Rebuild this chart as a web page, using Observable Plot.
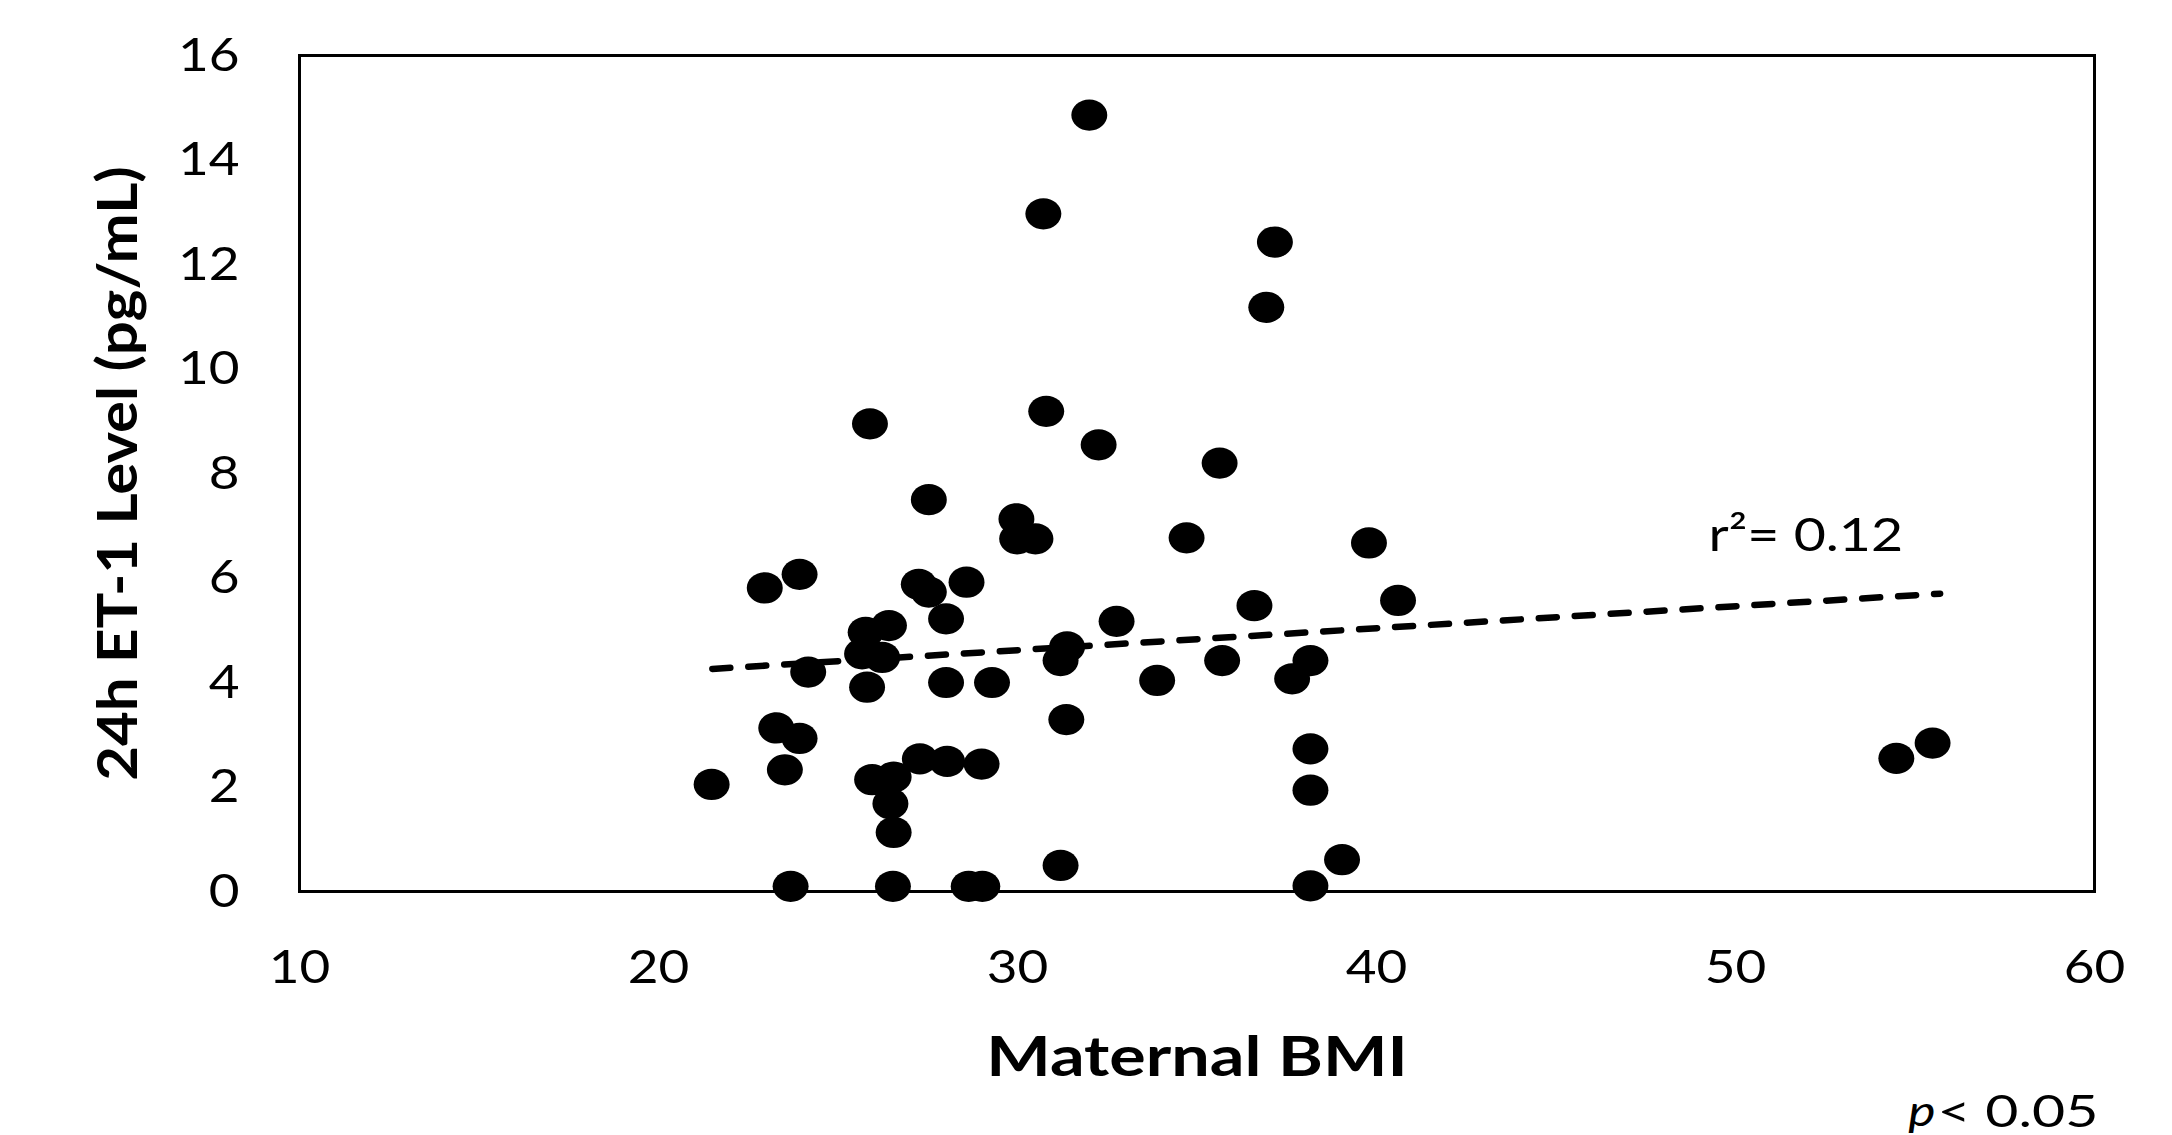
<!DOCTYPE html>
<html>
<head>
<meta charset="utf-8">
<script src="https://cdn.jsdelivr.net/npm/d3@7"></script>
<script src="https://cdn.jsdelivr.net/npm/@observablehq/plot@0.6"></script>
<style>
  html, body { margin: 0; padding: 0; background: #ffffff; }
  #chart svg { display: block; }
</style>
</head>
<body>
<div id="chart"></div>
<script>
// Maternal BMI (x) and 24h ET-1 level in pg/mL (y)
const bmi = [21.48, 22.96, 23.93, 23.28, 23.93, 23.52, 24.17, 23.68, 25.89, 25.77,
             26.42, 25.67, 26.23, 25.81, 25.95, 26.55, 26.46, 26.55, 26.53, 27.53,
             27.25, 27.53, 28.58, 28.01, 28.01, 29.29, 27.28, 28.04, 29.00, 28.64,
             29.02, 30.72, 32.00, 30.80, 32.26, 29.97, 29.99, 30.50, 31.38, 31.20,
             31.36, 31.20, 32.76, 33.89, 34.71, 35.63, 35.70, 37.17, 36.93, 36.60,
             37.65, 38.16, 38.16, 38.16, 38.16, 39.04, 39.79, 40.60, 54.48, 55.49];
const et1 = [2.05, 5.81, 6.07, 3.13, 2.93, 2.33, 4.20, 0.10, 8.95, 4.96,
             5.09, 4.55, 4.48, 3.91, 2.14, 2.19, 1.68, 1.13, 0.10, 7.50,
             5.88, 5.73, 5.92, 5.22, 4.00, 4.00, 2.54, 2.49, 2.44, 0.10,
             0.10, 12.97, 14.86, 9.19, 8.55, 7.13, 6.75, 6.75, 4.68, 4.42,
             3.29, 0.50, 5.17, 4.04, 6.77, 8.20, 4.42, 12.43, 11.18, 5.47,
             4.07, 4.42, 2.73, 1.94, 0.11, 0.61, 6.67, 5.57, 2.55, 2.84];

// Linear trend line end points
const trendBmi = [21.5, 55.7];
const trendEt1 = [4.26, 5.70];

// Axis ticks
const xTicks = [10, 20, 30, 40, 50, 60];
const yTicks = [0, 2, 4, 6, 8, 10, 12, 14, 16];

// Labels
const xTitle = "Maternal BMI";
const yTitle = "24h ET-1 Level (pg/mL)";
const r2Label = "r\u00B2= 0.12";
const pLetter = "p";
const pRest = "< 0.05";

const points = bmi.map((b, i) => ({bmi: b, et1: et1[i]}));
const trend = trendBmi.map((b, i) => ({bmi: b, et1: trendEt1[i]}));

// Slightly flattened ellipse marker, like the original
const ellipse = {
  draw(ctx, size) {
    const r = Math.sqrt(size / Math.PI);
    const rx = r * 1.07, ry = r * 0.93, k = 0.5523;
    ctx.moveTo(rx, 0);
    ctx.bezierCurveTo(rx, ry * k, rx * k, ry, 0, ry);
    ctx.bezierCurveTo(-rx * k, ry, -rx, ry * k, -rx, 0);
    ctx.bezierCurveTo(-rx, -ry * k, -rx * k, -ry, 0, -ry);
    ctx.bezierCurveTo(rx * k, -ry, rx, -ry * k, rx, 0);
    ctx.closePath();
  }
};

const chart = Plot.plot({
  width: 2172,
  height: 1135,
  marginLeft: 299,
  marginRight: 78,
  marginTop: 55,
  marginBottom: 244,
  style: {fontFamily: "Lato, 'Open Sans', sans-serif", fontSize: "46px", color: "#000", background: "#fff"},
  x: {domain: [10, 60]},
  y: {domain: [0, 16]},
  marks: [
    Plot.axisX({ticks: xTicks, tickSize: 0, tickPadding: 58, label: null, fontSize: 47}),
    Plot.axisY({ticks: yTicks, tickSize: 0, tickPadding: 60, label: null, fontSize: 47}),
    Plot.line(trend, {x: "bmi", y: "et1", stroke: "#000", strokeWidth: 6.5, strokeDasharray: "18,18", strokeLinecap: "round"}),
    Plot.dot(points, {x: "bmi", y: "et1", r: 16.8, symbol: ellipse, fill: "#000", stroke: "none"}),
    Plot.frame({stroke: "#000", strokeWidth: 3}),
    Plot.text([r2Label], {x: 49.25, y: 6.81, text: d => d, textAnchor: "start", lineAnchor: "middle", fontSize: 47, fill: "#000"}),
    Plot.text([xTitle], {frameAnchor: "bottom", dy: 167, text: d => d, lineAnchor: "middle", fontSize: 56, fontWeight: "bold", fill: "#000"}),
    Plot.text([yTitle], {frameAnchor: "left", dx: -180, rotate: -90, text: d => d, textAnchor: "middle", lineAnchor: "middle", fontSize: 55, fontWeight: "bold", fill: "#000"}),
    Plot.text([pLetter], {frameAnchor: "bottom-right", dx: -159, dy: 221, text: d => d, textAnchor: "end", lineAnchor: "middle", fontSize: 43, fontStyle: "italic", fill: "#000"}),
    Plot.text([pRest], {frameAnchor: "bottom-right", dx: -157, dy: 221, text: d => d, textAnchor: "start", lineAnchor: "middle", fontSize: 44, fill: "#000"})
  ]
});

// Widen the glyphs horizontally, like the stretched original
const svg = d3.select(chart);
function stretch(node, sx) {
  const t = node.getAttribute("transform") || "";
  node.setAttribute("transform", t + ` scale(${sx},1)`);
}
svg.selectAll('g[aria-label="x-axis tick label"] text, g[aria-label="y-axis tick label"] text').each(function () { stretch(this, 1.13); });
const widen = new Map([[r2Label, 1.18], [xTitle, 1.22], [yTitle, 1.09], [pRest, 1.3], [pLetter, 1.2]]);
svg.selectAll("text").each(function () {
  const s = widen.get(this.textContent);
  if (s) stretch(this, s);
});

document.getElementById("chart").appendChild(chart);
</script>
</body>
</html>
